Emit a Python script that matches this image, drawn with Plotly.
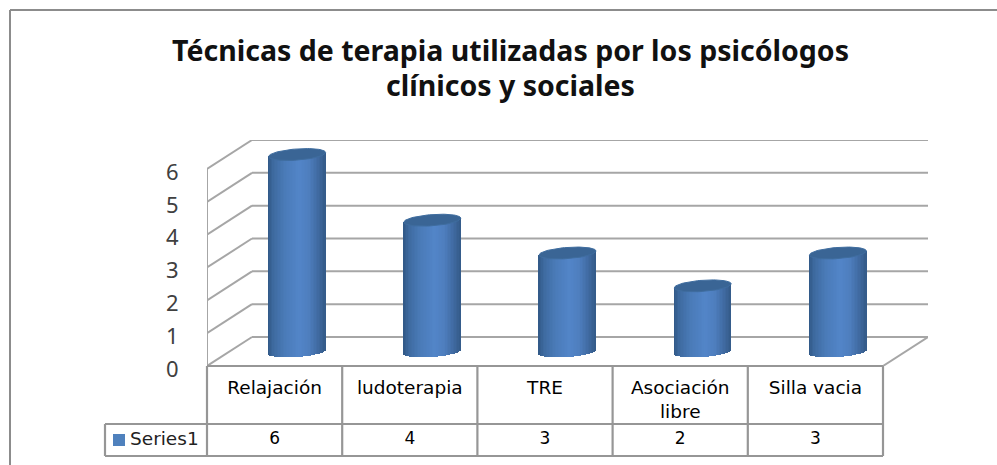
import numpy as np
import plotly.graph_objects as go

title_lines = ["Técnicas de terapia utilizadas por los psicólogos", "clínicos y sociales"]
categories = ["Relajación", "ludoterapia", "TRE", "Asociación<br>libre", "Silla vacia"]
series_name = "Series1"
values = [6, 4, 3, 2, 3]
y_ticks = [0, 1, 2, 3, 4, 5, 6]

W, H = 997, 465
L, R, T, B = 207, 928, 140, 366
XU, YU = 135.2, 32.83
X0 = 274.6

def xd(px): return (px - X0) / XU
def yd(py): return (B - py) / YU

DX, DY = 45 / XU, 29 / YU         # depth of the oblique box
RX = 28.5 / XU                    # cylinder half width
RY = 5.6 / YU                     # cylinder ellipse half height
TILT = 0.07 * XU / YU             # ellipse tilt, data units
GRID = "#a6a6a6"
TABLE = "#969696"

def shade(t):
    stops = [(0, (48, 88, 134)), (0.1, (62, 106, 160)), (0.3, (74, 123, 184)), (0.55, (82, 133, 200)),
             (0.72, (78, 126, 190)), (0.9, (62, 104, 158)), (1, (52, 90, 136))]
    for (a, ca), (b, cb) in zip(stops, stops[1:]):
        if t <= b:
            f = (t - a) / (b - a)
            c = [round(p + (q - p) * f) for p, q in zip(ca, cb)]
            return "rgb(%d,%d,%d)" % tuple(c)
    return "rgb(52,90,136)"

fig = go.Figure()
centers = np.arange(len(values)) + DX / 2
vals = np.array(values, float)
base_c = DY / 2

# cylinder bodies: narrow bars, each following the ellipse at top and bottom
N = 38
for k in range(N):
    t = (k + 0.5) / N
    u = 2 * t - 1
    off = u * RX
    low = base_c + u * RX * TILT - RY * np.sqrt(1 - u * u)
    high = vals + base_c + u * RX * TILT
    fig.add_trace(go.Bar(x=centers + off, y=high - low, base=[low] * len(vals),
                         width=2.4 * RX / N, marker=dict(color=shade(t), line_width=0),
                         showlegend=False, hoverinfo="skip"))

# cylinder tops
th = np.linspace(0, 2 * np.pi, 80)
for c, v in zip(centers, vals):
    ex = c + RX * np.cos(th)
    ey = v + base_c + RY * np.sin(th) + RX * np.cos(th) * TILT
    fig.add_trace(go.Scatter(x=ex, y=ey, mode="lines", fill="toself", fillcolor="#3a6595",
                             line=dict(color="#3f6d9f", width=1), showlegend=False, hoverinfo="skip",
                             cliponaxis=False))

shapes = []
def seg(x0, y0, x1, y1, color=GRID, width=2, layer="below"):
    shapes.append(dict(type="line", xref="x", yref="y", x0=x0, y0=y0, x1=x1, y1=y1,
                       line=dict(color=color, width=width), layer=layer))

xl, xr = xd(L), xd(R)
for v in y_ticks:
    seg(xl + DX, v + DY, xr, v + DY)          # back wall grid
    seg(xl, v, xl + DX, v + DY)               # side wall grid
seg(xl, 0, xl, y_ticks[-1])                    # side wall front edge
xfr = xd(883)
seg(xr, DY, xfr, 0)                            # floor right edge

# data table under the plot, on a full-page subplot using the same data units
row1, row2 = yd(424), yd(456)
col = [xl + i for i in range(len(values) + 1)]
xs = xd(105)
tx, ty = [], []
def tline(x0, y0, x1, y1):
    tx.extend([x0, x1, None]); ty.extend([y0, y1, None])
tline(xl, 0, col[-1], 0)
tline(xs, row1, col[-1], row1)
tline(xs, row2, col[-1], row2)
tline(xs, row1, xs, row2)
for c in col:
    tline(c, 0, c, row2)
over = dict(xaxis="x2", yaxis="y2", showlegend=False, hoverinfo="skip")
fig.add_trace(go.Scatter(x=tx, y=ty, mode="lines", line=dict(color=TABLE, width=2.2), **over))

mid = (row1 + row2) / 2
fig.add_trace(go.Scatter(x=list(range(len(values))), y=[mid] * len(values), mode="text",
                         text=[str(v) for v in values], textposition="middle center",
                         textfont=dict(family="DejaVu Sans", size=17, color="#000000"), **over))
fig.add_trace(go.Scatter(x=[xd(130)], y=[mid], mode="text", text=[series_name], textposition="middle right",
                         textfont=dict(family="DejaVu Sans", size=18.5, color="#222222"), **over))
fig.add_trace(go.Scatter(x=[xd(119)], y=[mid], mode="markers",
                         marker=dict(symbol="square", size=12, color="#4f81bd", line_width=0), **over))

ann = []
for line, py in zip(title_lines, (50, 85.5)):
    ann.append(dict(x=511 / W, y=1 - py / H, xref="paper", yref="paper", text=line, showarrow=False,
                    font=dict(family="Noto Sans", size=28.5, color="#111111", weight=700), yanchor="middle"))

# outer frame
shapes.append(dict(type="line", xref="paper", yref="paper", x0=10 / W, x1=10 / W, y0=0, y1=1 - 10 / H,
                   line=dict(color="#8c8c8c", width=2)))
shapes.append(dict(type="line", xref="paper", yref="paper", x0=10 / W, x1=1, y0=1 - 10 / H, y1=1 - 10 / H,
                   line=dict(color="#8c8c8c", width=2)))

fig.update_layout(
    width=W, height=H, autosize=False, paper_bgcolor="white", plot_bgcolor="rgba(0,0,0,0)",
    margin=dict(l=0, r=0, t=0, b=0), barmode="overlay", bargap=0, showlegend=False,
    shapes=shapes, annotations=ann,
    xaxis=dict(domain=[L / W, R / W], range=[xl, xr], tickvals=list(range(len(categories))),
               ticktext=categories, tickangle=0, ticks="outside", ticklen=5, tickcolor="rgba(0,0,0,0)",
               showgrid=False, zeroline=False, showline=False, automargin=False,
               tickfont=dict(family="DejaVu Sans", size=18.5, color="#000000")),
    yaxis=dict(domain=[1 - B / H, 1 - T / H], range=[0, yd(T)], tickvals=y_ticks,
               ticks="outside", ticklen=23, tickcolor="rgba(0,0,0,0)", ticklabelshift=3,
               showgrid=False, zeroline=False, showline=False, automargin=False,
               tickfont=dict(family="Noto Sans", size=22, color="#404040")),
    xaxis2=dict(domain=[0, 1], range=[xd(0), xd(W)], visible=False, anchor="y2"),
    yaxis2=dict(domain=[0, 1], range=[yd(H), yd(0)], visible=False, anchor="x2"),
)
fig.write_html("out.html", config={"displayModeBar": False},
               post_script="document.body.style.margin='0';document.body.style.overflow='hidden';")
